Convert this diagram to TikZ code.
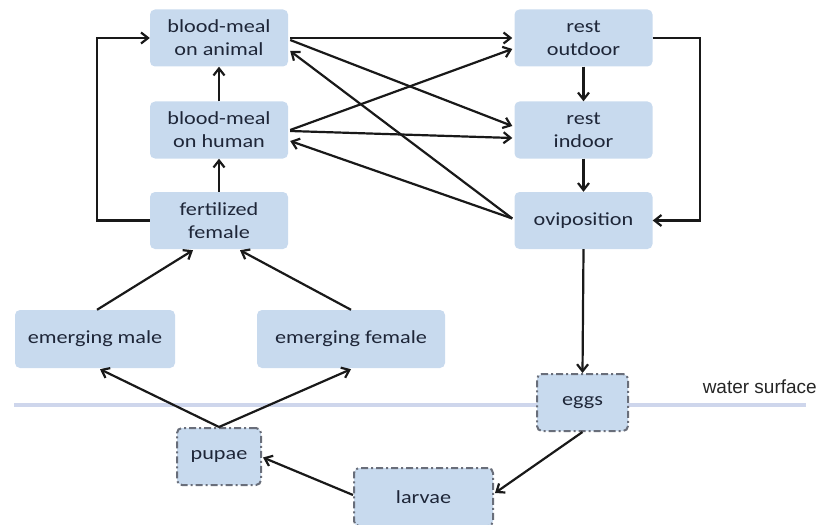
\documentclass[tikz,border=0pt]{standalone}
\usepackage{fontspec}
\setmainfont{Carlito}[FakeStretch=1.2]
\newfontfamily\wsfont{Liberation Sans}
\usetikzlibrary{arrows.meta,calc}
\definecolor{boxfill}{RGB}{200,218,238}
\definecolor{boxtext}{RGB}{30,38,56}
\definecolor{dashgray}{RGB}{105,110,122}
\definecolor{waterline}{RGB}{206,214,236}
\begin{document}
\begin{tikzpicture}[x=1pt,y=-1pt,
  box/.style={fill=boxfill, rounded corners=5pt, text=boxtext, font=\fontsize{18.5}{23}\selectfont, align=center, inner sep=0pt},
  bigbox/.style={box, minimum width=138pt, minimum height=57pt},
  dbox/.style={box, draw=dashgray, line width=2pt, dash pattern=on 7pt off 3pt on 2pt off 3pt},
  arr/.style={-{Straight Barb[length=7pt,width=11pt]}, line width=2.2pt, black!90}
]
\useasboundingbox (0,0) rectangle (818,524);
\coordinate (wl) at (14,405);
\coordinate (wr) at (806,405);
\draw[waterline, line width=4pt] (wl) -- (wr);
\node[font=\wsfont\fontsize{19}{22}\selectfont, text=black!85, anchor=base east, inner sep=0pt] (ws) at (817,393) {water surface};

\node[bigbox] (animal) at (219,38) {blood-meal\\on animal};
\node[bigbox] (human) at (219,130) {blood-meal\\on human};
\node[bigbox] (fert) at (219,220.5) {fertilized\\female};
\node[bigbox] (out) at (583.5,38) {rest\\outdoor};
\node[bigbox] (in) at (583.5,130) {rest\\indoor};
\node[bigbox] (ovi) at (583.5,220.5) {oviposition};
\node[box, minimum width=160pt, minimum height=58pt] (male) at (95,339) {emerging male};
\node[box, minimum width=188pt, minimum height=58pt] (female) at (351,339) {emerging female};
\node[dbox, minimum width=91pt, minimum height=57pt] (eggs) at (582.5,402.5) {eggs};
\node[dbox, minimum width=84pt, minimum height=57pt] (pupae) at (219,456.5) {pupae};
\node[dbox, minimum width=139pt, minimum height=58pt] (larvae) at (423.5,497) {larvae};

\draw[arr] (fert.west) -- ++(-53,0) |- (animal.west);
\draw[arr] (human.north) -- (animal.south);
\draw[arr] (fert.north) -- (human.south);
\draw[arr] (out.south) -- (in.north);
\draw[arr] (in.south) -- (ovi.north);
\draw[arr] (out.east) -- ++(47,0) |- (ovi.east);

\draw[arr] ($(animal.east)+(2,0)$) -- ($(out.west)+(-2,0)$);
\draw[arr] ($(animal.east)+(2,2)$) -- ($(in.west)+(-2,-4)$);
\draw[arr] ($(human.east)+(2,0)$) -- ($(out.west)+(-2,11)$);
\draw[arr] ($(human.east)+(2,1)$) -- ($(in.west)+(-2,8)$);
\draw[arr] ($(ovi.west)+(-2,-2)$) -- ($(animal.east)+(2,13)$);
\draw[arr] ($(ovi.west)+(-2,-2)$) -- ($(human.east)+(2,11)$);

\draw[arr] (ovi.south) -- (eggs.north);
\draw[arr] (eggs.south) -- ($(larvae.east)+(1,-4)$);
\draw[arr] ($(larvae.west)+(0,-2)$) -- ($(pupae.east)+(1,1)$);
\draw[arr] (pupae.north) -- ($(male.south)+(5,1)$);
\draw[arr] (pupae.north) -- ($(female.south)+(0,1)$);
\draw[arr] ($(male.north)+(2,0)$) -- ($(fert.south)+(-26,1)$);
\draw[arr] ($(female.north)+(0,0)$) -- ($(fert.south)+(21,1)$);
\end{tikzpicture}
\end{document}
